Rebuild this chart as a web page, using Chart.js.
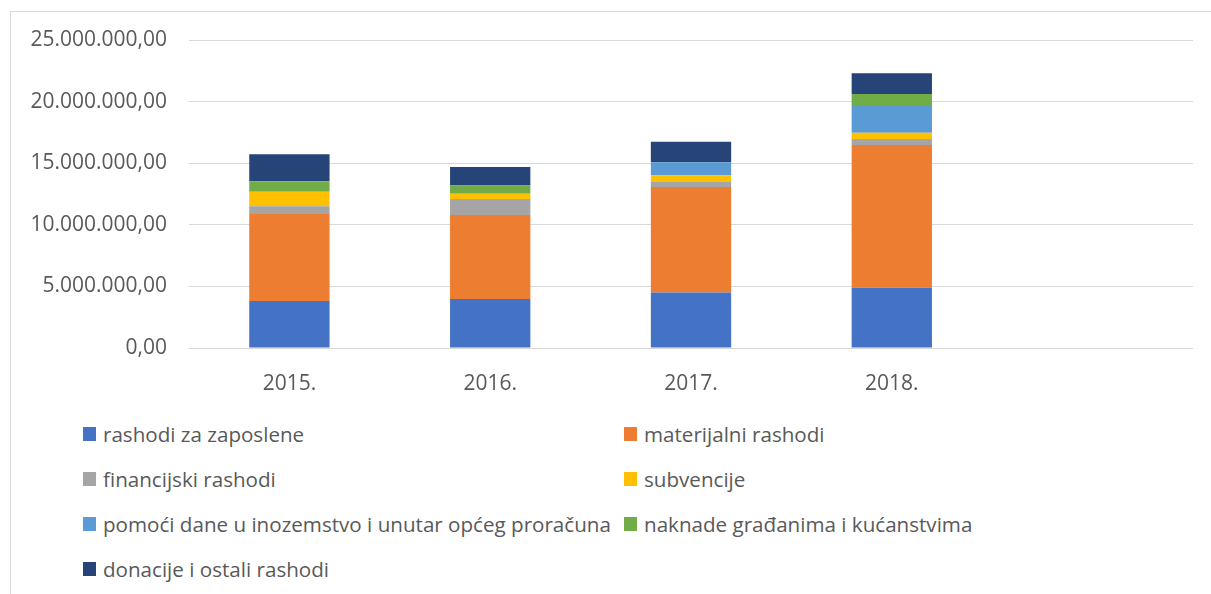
<!DOCTYPE html>
<html>
<head>
<meta charset="utf-8">
<script src="https://cdn.jsdelivr.net/npm/chart.js@4"></script>
<style>
    body { margin: 0; background: #fff; font-family: "Open Sans", sans-serif; }
    #frame { position: absolute; left: 10px; top: 11px; width: 1230px; height: 620px; border: 1px solid #d9d9d9; }
    #wrap { position: absolute; left: 0; top: 0; width: 1211px; height: 400px; }
    #legend { position: absolute; left: 83px; top: 411px; display: grid; grid-template-columns: 541px 541px; row-gap: 0; }
    .item { height: 45px; display: flex; align-items: center; font-size: 20.6px; color: #595959; white-space: nowrap; }
    .box { width: 13px; height: 14px; margin-right: 7px; flex: none; }
</style>
</head>
<body>
<div id="frame"></div>
<div id="wrap"><canvas id="expChart"></canvas></div>
<div id="legend"></div>
<script>
// years (last slot is empty in the original chart)
const years = ['2015.', '2016.', '2017.', '2018.', ''];

// values in kn
const rashodiZaposlene = [3820000, 3980000, 4500000, 4900000];
const materijalni = [7060000, 6820000, 8570000, 11580000];
const financijski = [620000, 1290000, 400000, 480000];
const subvencije = [1190000, 440000, 550000, 520000];
const pomoci = [0, 0, 1050000, 2160000];
const naknade = [840000, 650000, 0, 980000];
const donacije = [2190000, 1510000, 1680000, 1680000];

const seriesNames = [
    'rashodi za zaposlene',
    'materijalni rashodi',
    'financijski rashodi',
    'subvencije',
    'pomoći dane u inozemstvo i unutar općeg proračuna',
    'naknade građanima i kućanstvima',
    'donacije i ostali rashodi'
];
const seriesData = [rashodiZaposlene, materijalni, financijski, subvencije, pomoci, naknade, donacije];
const seriesColors = ['#4472C4', '#ED7D31', '#A5A5A5', '#FFC000', '#5B9BD5', '#70AD47', '#264478'];

const yTicks = [0, 5000000, 10000000, 15000000, 20000000, 25000000];

function fmt(v) {
    // 25000000 -> 25.000.000,00
    return v.toFixed(0).replace(/\B(?=(\d{3})+(?!\d))/g, '.') + ',00';
}

function buildLegend(chart) {
    const legend = document.getElementById('legend');
    legend.innerHTML = '';
    chart.data.datasets.forEach(ds => {
        const item = document.createElement('div');
        item.className = 'item';
        const box = document.createElement('span');
        box.className = 'box';
        box.style.background = ds.backgroundColor;
        const txt = document.createElement('span');
        txt.textContent = ds.label;
        item.appendChild(box);
        item.appendChild(txt);
        legend.appendChild(item);
    });
}

function initChart() {
    const ctx = document.getElementById('expChart').getContext('2d');
    const datasets = seriesNames.map((name, i) => ({
        label: name,
        data: seriesData[i],
        backgroundColor: seriesColors[i],
        borderWidth: 0,
        categoryPercentage: 1,
        barPercentage: 0.4
    }));
    const chart = new Chart(ctx, {
        type: 'bar',
        data: { labels: years, datasets: datasets },
        options: {
            responsive: true,
            maintainAspectRatio: false,
            animation: false,
            layout: { padding: { left: 0, right: 18, top: 40, bottom: 0 } },
            plugins: { legend: { display: false }, tooltip: { enabled: false } },
            scales: {
                x: {
                    stacked: true,
                    grid: { display: false },
                    border: { display: false },
                    ticks: { color: '#595959', font: { family: 'Open Sans', size: 21 }, padding: 15 },
                    afterFit: s => { s.height = 52; }
                },
                y: {
                    stacked: true,
                    min: 0,
                    max: 25000000,
                    afterBuildTicks: s => { s.ticks = yTicks.map(v => ({ value: v })); },
                    grid: { color: '#d9d9d9', lineWidth: 1, drawTicks: false },
                    border: { display: false },
                    ticks: {
                        color: '#595959',
                        font: { family: 'Open Sans', size: 21 },
                        padding: 22,
                        callback: v => fmt(v)
                    },
                    afterFit: s => { s.width = 189; }
                }
            }
        }
    });
    buildLegend(chart);
}

window.onload = () => {
    initChart();
};
</script>
</body>
</html>
